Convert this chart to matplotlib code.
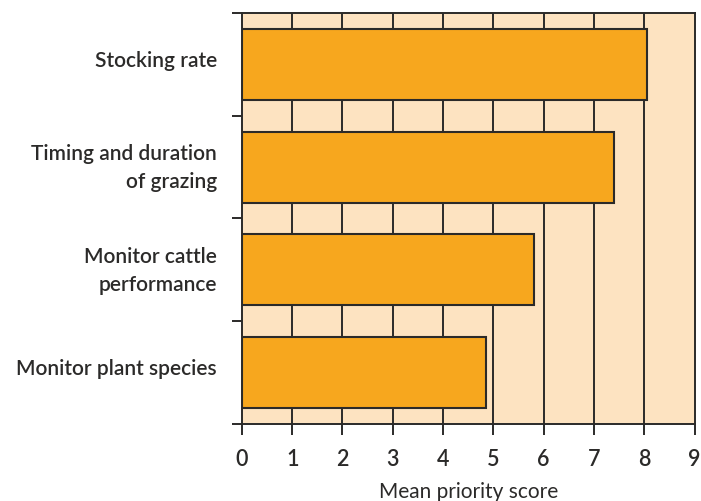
import matplotlib.pyplot as plt
from matplotlib.transforms import ScaledTranslation

# Chart data
categories = ['Stocking rate', 'Timing and duration\nof grazing',
              'Monitor cattle\nperformance', 'Monitor plant species']
scores = [8.06, 7.39, 5.80, 4.86]
x_ticks = list(range(0, 10))

bar_color = '#F7A71E'
bg_color = '#FDE3C1'
line_color = '#2B2A29'

plt.rcParams['font.family'] = ['Lato', 'DejaVu Sans']
plt.rcParams['font.weight'] = 'semibold'

fig = plt.figure(figsize=(7.01, 5.01), dpi=100)
ax = fig.add_axes([0.345, 0.154, 0.646, 0.820])
ax.set_facecolor(bg_color)

# bars, top category first
y_pos = list(range(len(categories)))
ax.barh(y_pos, scores, height=0.69, color=bar_color, edgecolor=line_color,
        linewidth=1.5, zorder=3)

ax.set_xlim(0, 9)
ax.set_ylim(len(categories) - 0.5, -0.5)

# vertical grid lines at every integer
for x in x_ticks[1:-1]:
    ax.axvline(x, color=line_color, linewidth=1.4, zorder=1)

ax.set_xticks(x_ticks)
ax.set_xticklabels([str(v) for v in x_ticks])

# y ticks on band boundaries, labels at band centres
ax.set_yticks([i - 0.5 for i in range(len(categories) + 1)])
ax.set_yticklabels([])
ax.set_yticks(y_pos, minor=True)
ax.set_yticklabels(categories, minor=True, ha='right', fontsize=15,
                   color=line_color, linespacing=1.5)
ax.tick_params(axis='y', which='minor', length=0, pad=18)
ax.tick_params(axis='y', which='major', length=7, width=1.4, color=line_color)
ax.tick_params(axis='x', length=8, width=1.4, color=line_color, pad=10,
               labelsize=15.5, labelcolor=line_color)

# nudge category labels up a little
shift = ScaledTranslation(0, 5 / 100, fig.dpi_scale_trans)
for lbl in ax.get_yticklabels(minor=True):
    lbl.set_transform(lbl.get_transform() + shift)

for s in ax.spines.values():
    s.set_color(line_color)
    s.set_linewidth(1.4)

ax.set_xlabel('Mean priority score', fontsize=15, color=line_color, labelpad=9)

fig.savefig('out.png', dpi=100)
